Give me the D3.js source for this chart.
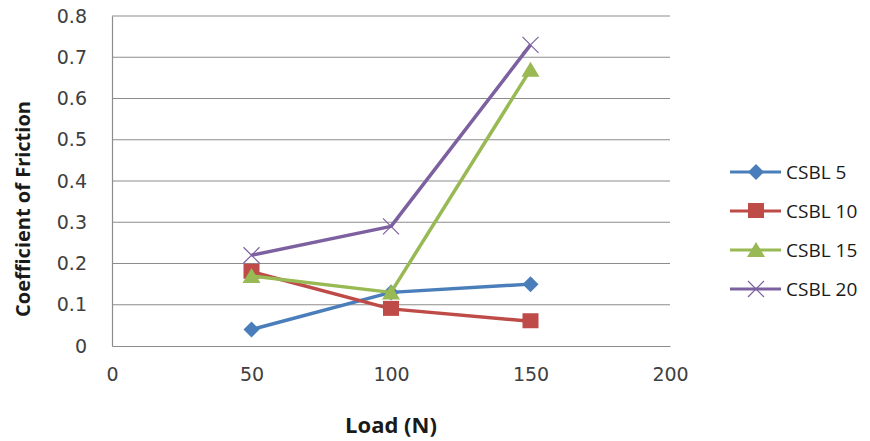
<!DOCTYPE html>
<html>
<head>
<meta charset="utf-8">
<script src="https://cdn.jsdelivr.net/npm/d3@7"></script>
<style>
  body { margin: 0; background: white; }
  .tick text { font-family: "DejaVu Sans", sans-serif; fill: #404040; }
</style>
</head>
<body>
<script>
var loads = [50, 100, 150]
var seriesNames = ["CSBL 5", "CSBL 10", "CSBL 15", "CSBL 20"]
var csbl5 = [0.04, 0.13, 0.15]
var csbl10 = [0.18, 0.09, 0.06]
var csbl15 = [0.17, 0.13, 0.67]
var csbl20 = [0.22, 0.29, 0.73]
var xTicks = [0, 50, 100, 150, 200]
var yTicks = [0, 0.1, 0.2, 0.3, 0.4, 0.5, 0.6, 0.7, 0.8]

var colors = ["#4A7EBB", "#BE4B48", "#98B954", "#7D60A0"]
var markers = ["diamond", "square", "triangle", "cross"]

var width = 870
var height = 441
var margin = { left: 112, right: 200, top: 16, bottom: 95 }

var svg = d3.select("body")
    .append("svg")
    .attr("width", width)
    .attr("height", height)

var x = d3.scaleLinear().domain([0, 200]).range([margin.left, width - margin.right])
var y = d3.scaleLinear().domain([0, 0.8]).range([height - margin.bottom, margin.top])

// gridlines
svg.append("g")
    .selectAll("line")
    .data(yTicks.slice(1))
    .enter()
    .append("line")
    .attr("x1", x(0))
    .attr("x2", x(200))
    .attr("y1", d => y(d))
    .attr("y2", d => y(d))
    .attr("stroke", "#8c8c8c")
    .attr("stroke-width", 1.2)

var yAxis = svg.append("g")
    .attr("transform", "translate(" + x(0) + ",0)")
    .call(d3.axisLeft(y).tickValues(yTicks).tickSize(0).tickPadding(25).tickFormat(d3.format("")))
yAxis.select(".domain").attr("stroke", "#8c8c8c").attr("stroke-width", 1.2)
yAxis.selectAll("text").attr("font-size", 19)

var xAxis = svg.append("g")
    .attr("transform", "translate(0," + y(0) + ")")
    .call(d3.axisBottom(x).tickValues(xTicks).tickSize(0).tickPadding(22))
xAxis.select(".domain").attr("stroke", "#8c8c8c").attr("stroke-width", 1.2)
xAxis.selectAll("text").attr("font-size", 19)

// axis titles
svg.append("text")
    .attr("transform", "translate(30," + 209 + ") rotate(-90)")
    .attr("text-anchor", "middle")
    .attr("font-family", "Open Sans, sans-serif")
    .attr("font-weight", "bold")
    .attr("font-size", 20)
    .attr("fill", "#1a1a1a")
    .text("Coefficient of Friction")

svg.append("text")
    .attr("x", 391)
    .attr("y", 433)
    .attr("text-anchor", "middle")
    .attr("font-family", "Open Sans, sans-serif")
    .attr("font-weight", "bold")
    .attr("font-size", 22)
    .attr("fill", "#1a1a1a")
    .text("Load (N)")

var allSeries = [csbl5, csbl10, csbl15, csbl20]

var line = d3.line()
    .x(function (d, i) { return x(loads[i]) })
    .y(function (d) { return y(d) })

function drawMarker(g, type, color) {
    if (type === "diamond") {
        g.append("path").attr("d", "M0,-8L8,0L0,8L-8,0Z").attr("fill", color)
    } else if (type === "square") {
        g.append("rect").attr("x", -8).attr("y", -8).attr("width", 16).attr("height", 15).attr("fill", color)
    } else if (type === "triangle") {
        g.append("path").attr("d", "M0,-8L9,7L-9,7Z").attr("fill", color)
    } else {
        g.append("path").attr("d", "M-8,-8L8,8M-8,8L8,-8").attr("stroke", color).attr("stroke-width", 1.2).attr("fill", "none")
    }
}

allSeries.forEach(function (vals, s) {
    svg.append("path")
        .datum(vals)
        .attr("d", line)
        .attr("fill", "none")
        .attr("stroke", colors[s])
        .attr("stroke-width", 3.5)
        .attr("stroke-linejoin", "round")

    svg.append("g")
        .selectAll("g")
        .data(vals)
        .enter()
        .append("g")
        .attr("transform", function (d, i) { return "translate(" + x(loads[i]) + "," + y(d) + ")" })
        .each(function () { drawMarker(d3.select(this), markers[s], colors[s]) })
})

// legend
var legend = svg.append("g")
    .selectAll("g")
    .data(seriesNames)
    .enter()
    .append("g")
    .attr("transform", function (d, i) { return "translate(730," + (172 + i * 39) + ")" })

legend.append("line")
    .attr("x1", 0)
    .attr("x2", 51)
    .attr("stroke", (d, i) => colors[i])
    .attr("stroke-width", 3)

legend.append("g")
    .attr("transform", "translate(26,0)")
    .each(function (d, i) { drawMarker(d3.select(this), markers[i], colors[i]) })

legend.append("text")
    .attr("x", 56)
    .attr("dy", "0.35em")
    .attr("font-family", "Open Sans, sans-serif")
    .attr("font-size", 19)
    .attr("fill", "#1a1a1a")
    .text(d => d)
</script>
</body>
</html>
